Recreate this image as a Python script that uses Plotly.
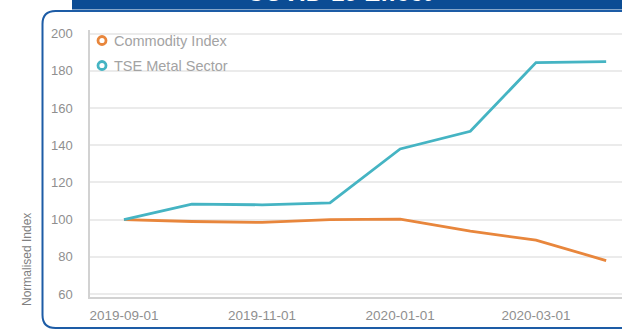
import plotly.graph_objects as go

# Monthly observations, both series rebased to 100 at 2019-09-01
dates = ["2019-09-01", "2019-10-01", "2019-11-01", "2019-12-01",
         "2020-01-01", "2020-02-01", "2020-03-01", "2020-04-01"]
commodity_index = [100, 99, 98.5, 100, 100.3, 93.8, 89, 78]
tse_metal_sector = [100, 108.3, 108, 109, 138, 147.5, 184.5, 185]
series_names = ["Commodity Index", "TSE Metal Sector"]
tick_dates = ["2019-09-01", "2019-11-01", "2020-01-01", "2020-03-01"]
y_ticks = [60, 80, 100, 120, 140, 160, 180, 200]

W, H = 622, 329
L, R, T, B = 90, 0, 30, 32
PW, PH = W - L - R, H - T - B

ORANGE = "#e8863c"
TEAL = "#45b4c3"
NAVY = "#0b4c94"
FRAME = "#1d5ca6"
FONT = "Liberation Sans, Arial"


def px(x):
    return (x - L) / PW


def py(y):
    return (H - B - y) / PH


fig = go.Figure()
for name, vals, col in [(series_names[0], commodity_index, ORANGE),
                        (series_names[1], tse_metal_sector, TEAL)]:
    fig.add_trace(go.Scatter(x=dates, y=vals, mode="lines", name=name,
                             line=dict(color=col, width=2.8),
                             showlegend=False))

shapes = []
# rounded frame around the panel
r = 13
fx0, fy0, fy1, fx1 = 42.5, 11, 328, 640
path = (f"M {px(fx1)},{py(fy0)} L {px(fx0 + r)},{py(fy0)} "
        f"Q {px(fx0)},{py(fy0)} {px(fx0)},{py(fy0 + r)} "
        f"L {px(fx0)},{py(fy1 - r)} "
        f"Q {px(fx0)},{py(fy1)} {px(fx0 + r)},{py(fy1)} "
        f"L {px(fx1)},{py(fy1)}")
shapes.append(dict(type="path", xref="paper", yref="paper", path=path,
                   line=dict(color=FRAME, width=2)))
# header banner
shapes.append(dict(type="rect", xref="paper", yref="paper",
                   x0=px(72), x1=px(640), y0=py(-10), y1=py(9.5),
                   fillcolor=NAVY, line=dict(width=0)))

annotations = [
    dict(text="<b>COVID-19 Effect</b>", xref="paper", yref="paper",
         x=px(339), y=py(8), xanchor="center", yanchor="bottom",
         showarrow=False, font=dict(color="white", size=24, family=FONT)),
    dict(text="Normalised Index", xref="paper", yref="paper",
         x=px(27), y=py(260), textangle=-90, xanchor="center",
         yanchor="middle", showarrow=False,
         font=dict(color="#808080", size=12, family=FONT)),
]

# legend: hollow circle swatches with labels
for i, (name, col) in enumerate(zip(series_names, [ORANGE, TEAL])):
    cy = 40.5 + i * 25
    cx = 102
    rr = 4
    shapes.append(dict(type="circle", xref="paper", yref="paper",
                       x0=px(cx - rr), x1=px(cx + rr),
                       y0=py(cy + rr), y1=py(cy - rr),
                       fillcolor="white", line=dict(color=col, width=2.8)))
    annotations.append(dict(text=name, xref="paper", yref="paper",
                            x=px(112), y=py(cy), xanchor="left",
                            yanchor="middle", showarrow=False,
                            font=dict(color="#a3a3a3", size=14.5,
                                      family=FONT)))

fig.update_layout(
    width=W, height=H,
    margin=dict(l=L, r=R, t=T, b=B),
    paper_bgcolor="white", plot_bgcolor="white",
    shapes=shapes, annotations=annotations,
    xaxis=dict(type="date", range=["2019-08-17", "2020-04-08"],
               tickvals=tick_dates, ticktext=tick_dates,
               showgrid=False, showline=True, linecolor="#d2d2d2",
               linewidth=1.5, ticks="", ticklabelstandoff=5,
               tickfont=dict(color="#8f8f8f", size=13.5, family=FONT)),
    yaxis=dict(range=[58.4, 202], tickvals=y_ticks,
               showgrid=True, gridcolor="#ebebeb", gridwidth=1.5,
               zeroline=False, showline=True, linecolor="#d2d2d2",
               linewidth=1.5, ticks="", ticklabelstandoff=13,
               tickfont=dict(color="#8f8f8f", size=13, family=FONT)),
)

fig.write_html("out.html")
